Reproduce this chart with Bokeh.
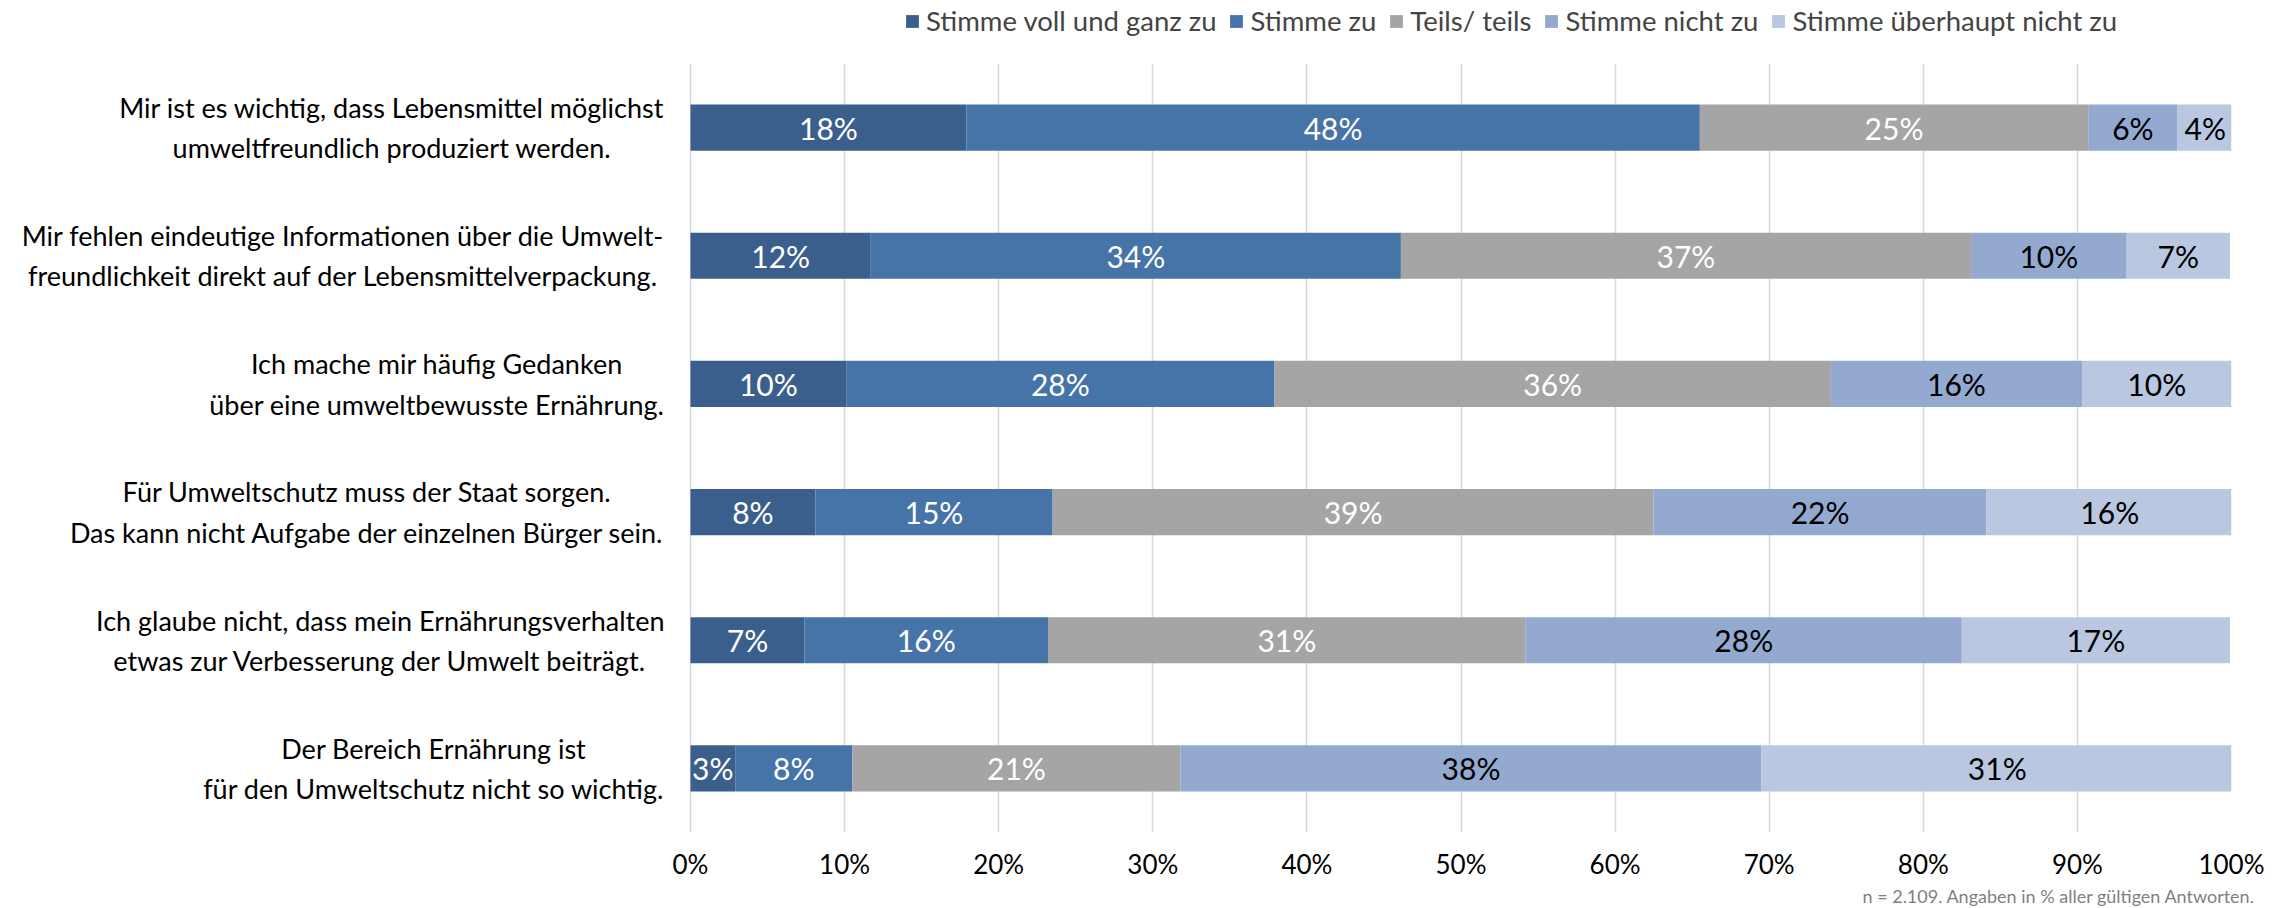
from bokeh.plotting import figure
from bokeh.models import ColumnDataSource, Range1d, Legend, LegendItem, FixedTicker, Title
from bokeh.embed import file_html
from bokeh.resources import INLINE
from bokeh.core.properties import value

categories = [
    "Mir ist es wichtig, dass Lebensmittel möglichst\numweltfreundlich produziert werden.",
    "Mir fehlen eindeutige Informationen über die Umwelt-\nfreundlichkeit direkt auf der Lebensmittelverpackung.",
    "Ich mache mir häufig Gedanken\nüber eine umweltbewusste Ernährung.",
    "Für Umweltschutz muss der Staat sorgen.\nDas kann nicht Aufgabe der einzelnen Bürger sein.",
    "Ich glaube nicht, dass mein Ernährungsverhalten\netwas zur Verbesserung der Umwelt beiträgt.",
    "Der Bereich Ernährung ist\nfür den Umweltschutz nicht so wichtig.",
]
series_names = ["Stimme voll und ganz zu", "Stimme zu", "Teils/ teils",
                "Stimme nicht zu", "Stimme überhaupt nicht zu"]
voll_und_ganz = [17.9, 11.7, 10.1, 8.1, 7.4, 2.9]
stimme_zu = [47.6, 34.4, 27.8, 15.4, 15.8, 7.6]
teils_teils = [25.2, 37.0, 36.1, 39.0, 31.0, 21.3]
nicht_zu = [5.8, 10.1, 16.3, 21.6, 28.3, 37.7]
ueberhaupt_nicht = [3.6, 6.7, 9.7, 16.0, 17.4, 30.6]
x_ticks = [0, 10, 20, 30, 40, 50, 60, 70, 80, 90, 100]
x_tick_labels = ["0%", "10%", "20%", "30%", "40%", "50%", "60%", "70%", "80%", "90%", "100%"]
footnote = "n = 2.109. Angaben in % aller gültigen Antworten."

series_values = [voll_und_ganz, stimme_zu, teils_teils, nicht_zu, ueberhaupt_nicht]
colors = ["#3B5F8D", "#4674A8", "#A5A5A5", "#94A9D0", "#BAC7E0"]
label_colors = ["white", "white", "white", "black", "black"]

FONT = "Lato"
W, H = 2284, 908
RIGHT, BOTTOM = 53, 76
PLOT_LEFT, PLOT_TOP = 690, 63      # where the 0 % line and the first category band start
n = len(categories)
band_px = (H - BOTTOM - PLOT_TOP) / n
ypos = [n - 1 - i for i in range(n)]          # first category on top
y_top = (n - 0.5) + PLOT_TOP / band_px
x_lo, x_hi = x_ticks[0], x_ticks[-1]
px_per_unit = (W - RIGHT - PLOT_LEFT) / (x_hi - x_lo)
x_start = x_lo - PLOT_LEFT / px_per_unit

p = figure(width=W, height=H, output_backend="svg", toolbar_location=None,
           y_range=Range1d(-0.5, y_top), x_range=Range1d(x_start, x_hi),
           min_border_left=0, min_border_right=RIGHT,
           min_border_top=0, min_border_bottom=BOTTOM)
p.outline_line_color = None
p.background_fill_color = "white"
p.border_fill_color = "white"

p.ygrid.grid_line_color = None
p.xgrid.grid_line_color = "#D9D9D9"
p.xgrid.grid_line_width = 1.5
p.xgrid.cross_bounds = (-0.5, n - 0.5)

left = [0.0] * n
renderers = []
for name, vals, col, lcol in zip(series_names, series_values, colors, label_colors):
    right = [l + v for l, v in zip(left, vals)]
    mid = [(l + r) / 2 for l, r in zip(left, right)]
    src = ColumnDataSource(dict(y=ypos, left=left, right=right, mid=mid,
                                lab=[f"{v:.0f}%" for v in vals]))
    r = p.hbar(y="y", left="left", right="right", height=0.36, source=src,
               fill_color=col, line_color=None)
    p.text(x="mid", y="y", text="lab", source=src, text_align="center",
           text_baseline="middle", text_color=lcol, text_font=value(FONT),
           text_font_size="30px")
    renderers.append((name, r))
    left = right

# category labels: right edge next to the 0 % line, lines centred within the block
cat_src = ColumnDataSource(dict(x=[x_lo] * n, y=ypos, text=categories))
p.text(x="x", y="y", text="text", source=cat_src, x_offset=-26,
       anchor=value("center_right"), text_align="center", text_baseline="middle",
       text_font=value(FONT), text_font_size="27px", text_color="#000000",
       text_line_height=1.22)

p.yaxis.visible = False
p.xaxis.ticker = FixedTicker(ticks=x_ticks)
p.xaxis.major_label_overrides = {t: l for t, l in zip(x_ticks, x_tick_labels)}
xa = p.xaxis[0]
xa.axis_line_color = None
xa.major_tick_line_color = None
xa.minor_tick_line_color = None
xa.major_label_text_font = FONT
xa.major_label_text_color = "#000000"
xa.major_label_text_font_size = "26px"
xa.major_label_standoff = 9

p.add_layout(Title(text=footnote, align="right", offset=-24, standoff=0,
                   text_font=FONT, text_font_size="18px", text_font_style="normal",
                   text_color="#7F7F7F"), "below")

legend = Legend(items=[LegendItem(label=nm, renderers=[r]) for nm, r in renderers],
                orientation="horizontal", location=(904, H - BOTTOM - 37),
                glyph_width=16, glyph_height=16, label_standoff=6, spacing=12,
                padding=0, margin=0, border_line_color=None,
                background_fill_alpha=0,
                label_text_font=FONT, label_text_font_size="27.5px")
p.add_layout(legend, "center")

open("out.html", "w").write(file_html(p, INLINE))
